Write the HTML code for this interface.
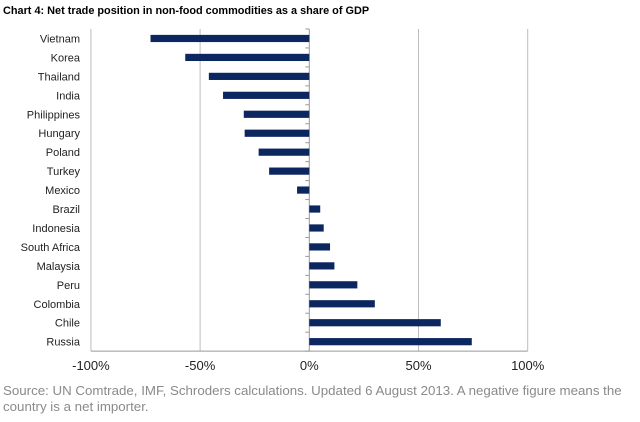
<!DOCTYPE html>
<html><head><meta charset="utf-8"><style>
body{margin:0;background:#fff;width:640px;height:417px;overflow:hidden;font-family:"Liberation Sans",sans-serif}
</style></head><body>
<svg width="640" height="417" xmlns="http://www.w3.org/2000/svg">
<text x="3" y="14" font-size="10.9" font-weight="bold" fill="#000">Chart 4: Net trade position in non-food commodities as a share of GDP</text>
<g id="grid"></g><g id="bars"></g><g id="labels"></g>
<text x="3" y="395" font-size="13.3" fill="#8a8a8a">Source: UN Comtrade, IMF, Schroders calculations. Updated 6 August 2013. A negative figure means the</text>
<text x="3" y="411" font-size="13.3" fill="#8a8a8a">country is a net importer.</text>
</svg>
<script>
const categories=["Vietnam","Korea","Thailand","India","Philippines","Hungary","Poland","Turkey","Mexico","Brazil","Indonesia","South Africa","Malaysia","Peru","Colombia","Chile","Russia"];
const values=[-72.7,-56.8,-46,-39.5,-30,-29.6,-23.2,-18.4,-5.6,5,6.6,9.5,11.5,22,30,60.2,74.4];
const ticks=[-100,-50,0,50,100];
const tickLabels=["-100%","-50%","0%","50%","100%"];
const NS="http://www.w3.org/2000/svg";
const xs=v=>309.3+v*2.184;
const plotTop=29,step=18.95,ys=i=>plotTop+step*(i+0.5);
const plotBottom=plotTop+step*categories.length;
function mk(t,a,p){const e=document.createElementNS(NS,t);for(const k in a)e.setAttribute(k,a[k]);p.appendChild(e);return e;}
const g=document.getElementById('grid'),b=document.getElementById('bars'),l=document.getElementById('labels');
ticks.forEach((t,i)=>{
 if(t!==0){const ln=mk('line',{x1:xs(t),x2:xs(t),y1:plotTop,y2:plotBottom,stroke:'#bdbdbd','stroke-width':1},g);
 
 }
 const tx=mk('text',{x:xs(t),y:370,'font-size':13,'text-anchor':'middle',fill:'#222'},l);
 tx.textContent=tickLabels[i];
 
 
});
const ax=mk('line',{x1:xs(-100),x2:xs(100),y1:plotBottom,y2:plotBottom,stroke:'#999'},g);


const zx=mk('line',{x1:xs(0),x2:xs(0),y1:plotTop,y2:plotBottom,stroke:'#999'},g);


for(let i=0;i<=categories.length;i++){
 const tk=mk('line',{x1:xs(0)-4,x2:xs(0),y1:plotTop+step*i,y2:plotTop+step*i,stroke:'#999'},g);
 
 
}
categories.forEach((c,i)=>{
 const v=values[i];
 const r=mk('rect',{x:Math.min(xs(0),xs(v)),y:ys(i)-3.6,width:Math.abs(xs(v)-xs(0)),height:7.2,fill:'#0c2660'},b);
 
 
 const t=mk('text',{x:80,y:ys(i)+4,'font-size':11,'text-anchor':'end',fill:'#222'},l);
 t.textContent=c;
 
 
});
</script>
</body></html>
